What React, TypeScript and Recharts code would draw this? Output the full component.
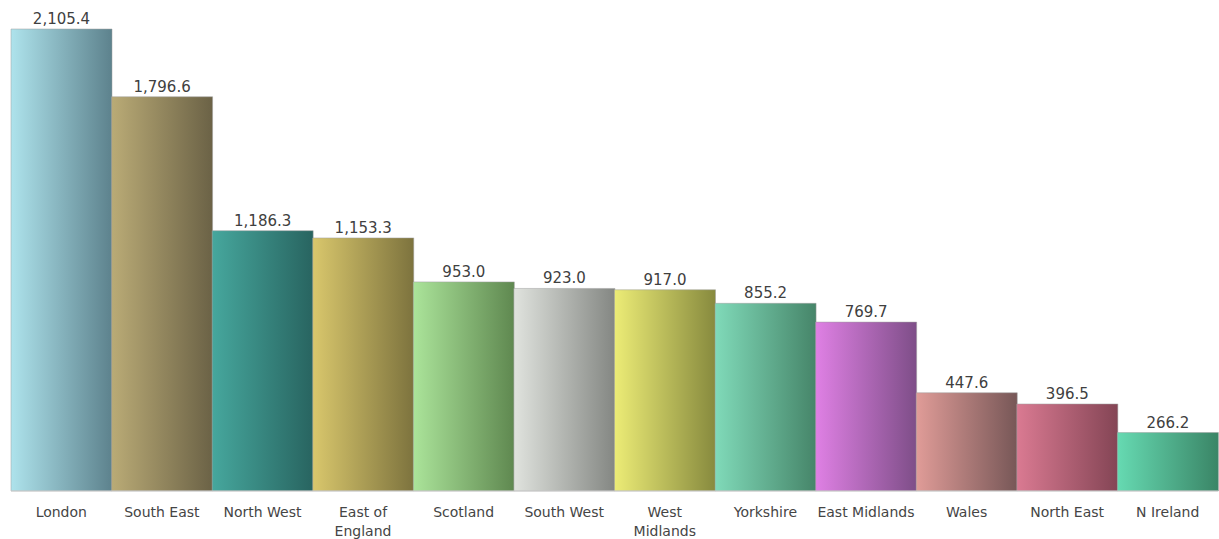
import React from 'react';
import { BarChart, Bar, XAxis, YAxis, Cell, LabelList } from 'recharts';

const regions = [
  'London', 'South East', 'North West', 'East of England', 'Scotland', 'South West',
  'West Midlands', 'Yorkshire', 'East Midlands', 'Wales', 'North East', 'N Ireland',
];
const values = [2105.4, 1796.6, 1186.3, 1153.3, 953.0, 923.0, 917.0, 855.2, 769.7, 447.6, 396.5, 266.2];
// axis labels as they wrap in the original
const tickLabels = [
  ['London'], ['South East'], ['North West'], ['East of', 'England'], ['Scotland'], ['South West'],
  ['West', 'Midlands'], ['Yorkshire'], ['East Midlands'], ['Wales'], ['North East'], ['N Ireland'],
];
// left (light) and right (dark) end of each bar's gradient
const lightColors = ['#aee3ec', '#baab76', '#46a79d', '#d9c76c', '#abe49a', '#e0e3de', '#ecec76', '#80dab9', '#df80e4', '#e09c98', '#da7a92', '#66dab2'];
const darkColors = ['#5d828d', '#6b6246', '#286460', '#7d733e', '#5f8850', '#848783', '#878a3e', '#468569', '#7e4e88', '#775757', '#844555', '#3a8566'];

const data = regions.map((name, i) => ({ name, value: values[i] }));

const fmt = (v: any) =>
  Number(v).toLocaleString('en-US', { minimumFractionDigits: 1, maximumFractionDigits: 1 });

const RegionTick = ({ x, y, payload }: any) => {
  const lines = tickLabels[regions.indexOf(payload.value)] || [payload.value];
  return (
    <text x={x} y={y} textAnchor="middle" fill="#454545" fontSize={14} fontFamily="DejaVu Sans, sans-serif">
      {lines.map((l: string, i: number) => (
        <tspan key={i} x={x} dy={i === 0 ? 18 : 19}>{l}</tspan>
      ))}
    </text>
  );
};

export default function App() {
  return (
    <div style={{ position: 'absolute', left: 0, top: 0, width: 1219, height: 539 }}>
      <BarChart
        width={1219}
        height={539}
        data={data}
        margin={{ top: 29, right: 1, left: 11, bottom: 0 }}
        barCategoryGap={0}
      >
        <defs>
          {regions.map((r, i) => (
            <linearGradient key={r} id={`grad${i}`} x1="0" y1="0" x2="1" y2="0">
              <stop offset="0%" stopColor={lightColors[i]} />
              <stop offset="100%" stopColor={darkColors[i]} />
            </linearGradient>
          ))}
        </defs>
        <XAxis
          dataKey="name"
          interval={0}
          height={48}
          tickLine={false}
          axisLine={{ stroke: '#cfcfcf', strokeWidth: 1 }}
          tick={<RegionTick />}
        />
        <YAxis hide domain={[0, 2105.4]} />
        <Bar dataKey="value" isAnimationActive={false} stroke="#a0a0a0" strokeOpacity={0.5} strokeWidth={1}>
          {data.map((d, i) => (
            <Cell key={d.name} fill={`url(#grad${i})`} />
          ))}
          <LabelList
            dataKey="value"
            position="top"
            offset={5}
            formatter={fmt}
            fill="#404040"
            fontSize={15}
            fontFamily="DejaVu Sans, sans-serif"
          />
        </Bar>
      </BarChart>
    </div>
  );
}
